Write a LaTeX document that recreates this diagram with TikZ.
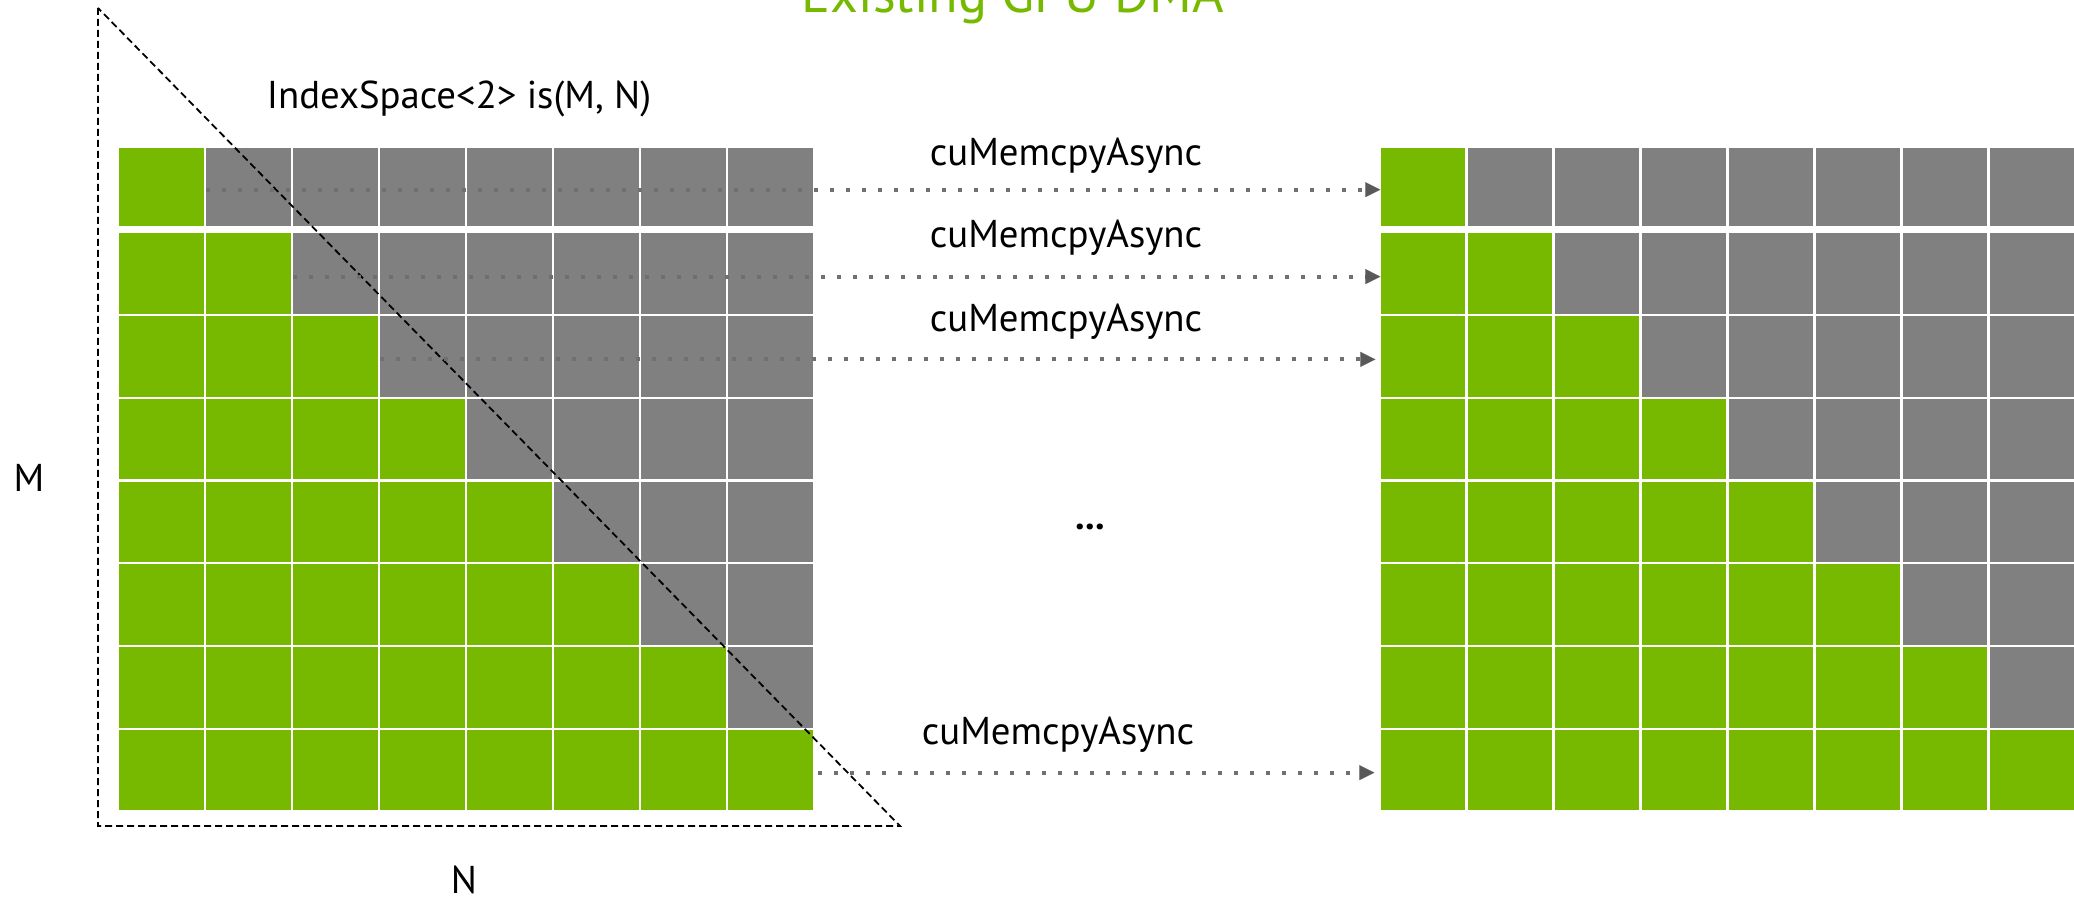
\documentclass[tikz,border=0pt]{standalone}
\usepackage{fontspec}
\setmainfont{PT Sans}
\usetikzlibrary{arrows.meta}
\definecolor{nvgreen}{HTML}{76B900}
\definecolor{cellgray}{HTML}{808080}
\definecolor{dotgray}{HTML}{707070}
\definecolor{headgray}{HTML}{595959}
\tikzset{
  cell/.style={rectangle, inner sep=0pt, minimum width=42.25pt},
  dma/.style={dotgray, line width=2pt, dash pattern=on 2pt off 6pt,
    -{Triangle[length=7.5pt,width=7.5pt,color=headgray,line width=0.01pt]}},
  lbl/.style={font=\fontsize{19.4}{23}\selectfont, inner sep=0pt},
  blocks/.pic={code={%

      % 8x8 blocks, row r has r green cells
      \foreach \r in {1,...,8} {
        \foreach \c in {1,...,8} {
          \ifnum\c>\r \def\cellcol{cellgray}\else \def\cellcol{nvgreen}\fi
          \ifnum\r=1 \def\rowy{39}\def\rowh{39pt}%
          \else \pgfmathsetmacro\rowy{125.95+(\r-2)*82.75}\def\rowh{40.15pt}\fi
          \node [cell, fill=\cellcol, minimum height=\rowh] (-\r-\c) at ({42.25+(\c-1)*87},\rowy) {};
        }
      }

}}}

\begin{document}
\begin{tikzpicture}[x=0.5pt, y=-0.5pt]
    \useasboundingbox (0,0) rectangle (2074,898);
    \clip (0,0) rectangle (2074,898);

    % coordinates to be reused
    \coordinate (T) at (98,8);
    \coordinate (O) at (98,826);
    \coordinate (E) at (900,826);

    % source and destination
    \pic (L) at (119.3,147.7) {blocks};
    \pic (R) at (1380.7,147.7) {blocks};

    % dashed triangle
    \draw [line width=0.9pt, dash pattern=on 3.5pt off 2pt] (T) -- (O) -- (E) -- cycle;

    % one copy per row
    \draw [dma] ([yshift=-1.5pt]L-1-2.west) -- ([yshift=-1.5pt]R-1-1.west);
    \draw [dma] ([yshift=-1.5pt]L-2-3.west) -- ([yshift=-1.5pt]R-2-1.west);
    \draw [dma] ([yshift=-1.5pt]L-3-4.west) -- ([xshift=-2.5pt,yshift=-1.5pt]R-3-1.west);
    \draw [dma] ([xshift=2.5pt,yshift=-1.25pt]L-8-8.east) -- ([xshift=-3pt,yshift=-1.25pt]R-8-1.west);

    % add labels
    \node [font=\fontsize{27}{32}\selectfont, nvgreen, anchor=base] (title) at (1013,13) {Existing GPU DMA};
    \node [lbl, anchor=base] (is) at (459,108.3) {IndexSpace<2> is(M, N)};
    \node [lbl, anchor=base] (cp1) at (1066,166) {cuMemcpyAsync};
    \node [lbl, anchor=base] (cp2) at (1066,248) {cuMemcpyAsync};
    \node [lbl, anchor=base] (cp3) at (1066,332) {cuMemcpyAsync};
    \node [lbl, anchor=base] (cp4) at (1058,744) {cuMemcpyAsync};
    \node [lbl, font=\fontsize{19.4}{23}\bfseries] (more) at (1090,527) {...};
    \node [lbl] (m) at (29,477.5) {M};
    \node [lbl] (n) at (464,879.5) {N};
\end{tikzpicture}
\end{document}
